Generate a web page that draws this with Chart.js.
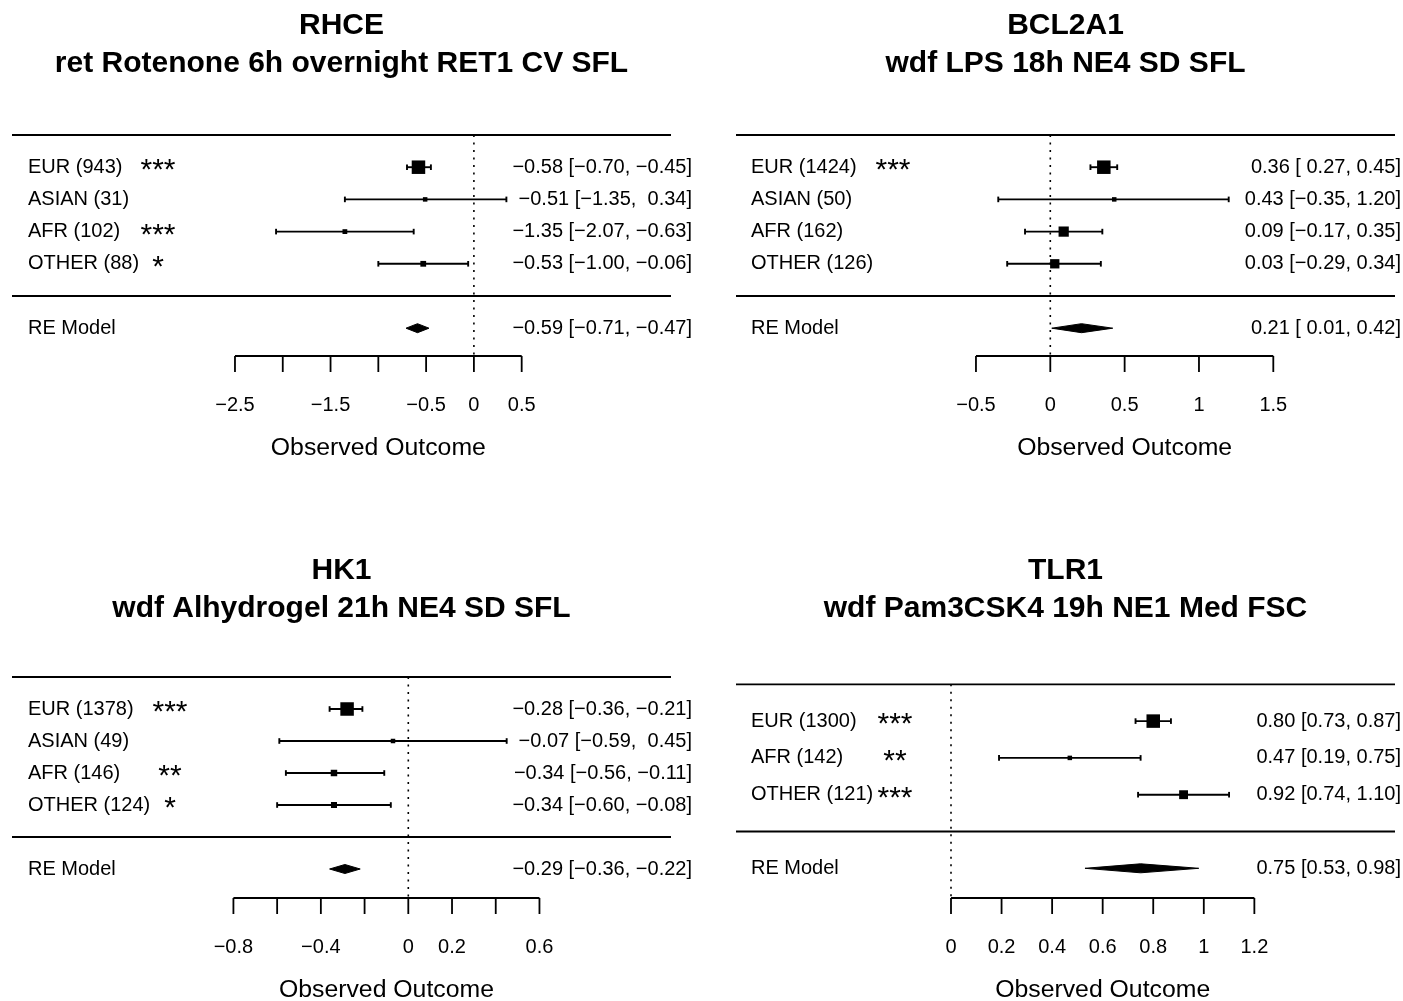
<!DOCTYPE html>
<html>
<head>
<meta charset="utf-8">
<script src="https://cdn.jsdelivr.net/npm/chart.js@4.4.1/dist/chart.umd.min.js"></script>
<style>
  body { margin: 0; background: #fff; }
  #wrap { position: relative; width: 1403px; height: 1001px; overflow: hidden; }
  canvas { position: absolute; }
</style>
</head>
<body>
<div id="wrap">
  <canvas id="c1" width="701" height="500" style="left:0;top:0"></canvas>
  <canvas id="c2" width="702" height="500" style="left:701px;top:0"></canvas>
  <canvas id="c3" width="701" height="501" style="left:0;top:500px"></canvas>
  <canvas id="c4" width="702" height="501" style="left:701px;top:500px"></canvas>
</div>
<script>
// ---- data ----
// RHCE
const rhceTitle = ['RHCE', 'ret Rotenone 6h overnight RET1 CV SFL'];
const rhceGroups = ['EUR (943)', 'ASIAN (31)', 'AFR (102)', 'OTHER (88)'];
const rhceStars = ['***', '', '***', '*'];
const rhceEst = [-0.58, -0.51, -1.35, -0.53];
const rhceLow = [-0.70, -1.35, -2.07, -1.00];
const rhceHigh = [-0.45, 0.34, -0.63, -0.06];
const rhceWeights = [89.0, 1.9, 2.7, 6.3];
const rhceRE = [-0.59, -0.71, -0.47]; // estimate, lower, upper
const rhceTicks = [-2.5, -2, -1.5, -1, -0.5, 0, 0.5];
const rhceTickLabels = ['\u22122.5', '', '\u22121.5', '', '\u22120.5', '0', '0.5'];

// BCL2A1
const bclTitle = ['BCL2A1', 'wdf LPS 18h NE4 SD SFL'];
const bclGroups = ['EUR (1424)', 'ASIAN (50)', 'AFR (162)', 'OTHER (126)'];
const bclStars = ['***', '', '', ''];
const bclEst = [0.36, 0.43, 0.09, 0.03];
const bclLow = [0.27, -0.35, -0.17, -0.29];
const bclHigh = [0.45, 1.20, 0.35, 0.34];
const bclWeights = [45.4, 5.7, 26.6, 22.2];
const bclRE = [0.21, 0.01, 0.42];
const bclTicks = [-0.5, 0, 0.5, 1, 1.5];
const bclTickLabels = ['\u22120.5', '0', '0.5', '1', '1.5'];

// HK1
const hkTitle = ['HK1', 'wdf Alhydrogel 21h NE4 SD SFL'];
const hkGroups = ['EUR (1378)', 'ASIAN (49)', 'AFR (146)', 'OTHER (124)'];
const hkStars = ['***', '', '**', '*'];
const hkEst = [-0.28, -0.07, -0.34, -0.34];
const hkLow = [-0.36, -0.59, -0.56, -0.60];
const hkHigh = [-0.21, 0.45, -0.11, -0.08];
const hkWeights = [82.3, 1.7, 9.1, 6.9];
const hkRE = [-0.29, -0.36, -0.22];
const hkTicks = [-0.8, -0.6, -0.4, -0.2, 0, 0.2, 0.4, 0.6];
const hkTickLabels = ['\u22120.8', '', '\u22120.4', '', '0', '0.2', '', '0.6'];

// TLR1
const tlrTitle = ['TLR1', 'wdf Pam3CSK4 19h NE1 Med FSC'];
const tlrGroups = ['EUR (1300)', 'AFR (142)', 'OTHER (121)'];
const tlrStars = ['***', '**', '***'];
const tlrEst = [0.80, 0.47, 0.92];
const tlrLow = [0.73, 0.19, 0.74];
const tlrHigh = [0.87, 0.75, 1.10];
const tlrWeights = [46.4, 21.3, 32.3];
const tlrRE = [0.75, 0.53, 0.98];
const tlrTicks = [0, 0.2, 0.4, 0.6, 0.8, 1, 1.2];
const tlrTickLabels = ['0', '0.2', '0.4', '0.6', '0.8', '1', '1.2'];

const FONT = '"Liberation Sans", Arial, Helvetica, sans-serif';

// format like R's forest annotations (padded columns, unicode minus)
function fmtCol(vals) {
  const s = vals.map(v => v.toFixed(2));
  const w = Math.max(...s.map(t => t.length));
  return s.map(t => (' '.repeat(w - t.length) + t).replace(/-/g, '\u2212'));
}

function makePanel(id, title, groups, stars, est, low, high, weights, re, ticks, tickLabels, lay) {
  const k = groups.length;
  const rows = groups.map((_, i) => k - i);
  const cv = document.getElementById(id);
  const W = cv.width, H = cv.height;
  const xmin = (lay.left - lay.zero) / lay.unit;
  const xmax = (lay.left + W - lay.zero) / lay.unit;
  const ymax = (lay.row0 - lay.top) / lay.step;
  const ymin = (lay.row0 - lay.top - H) / lay.step;
  const axisRow = (lay.row0 - lay.axisY) / lay.step;

  // metafor-style point sizes from sqrt(weights)
  const wi = weights.map(Math.sqrt);
  const sw = wi.reduce((a, b) => a + b, 0);
  const pw = wi.map(v => v / sw);
  const pmin = Math.min(...pw), pmax = Math.max(...pw);
  const psize = pw.map(v => (v - pmin) / (pmax - pmin) + 0.5);

  const estS = fmtCol(est.concat([re[0]]));
  const lowS = fmtCol(low.concat([re[1]]));
  const highS = fmtCol(high.concat([re[2]]));
  const ciText = estS.map((e, i) => e + ' [' + lowS[i] + ', ' + highS[i] + ']');

  const datasets = [];
  rows.forEach((r, i) => {
    datasets.push({
      data: [{ x: low[i], y: r }, { x: high[i], y: r }],
      borderColor: '#000', borderWidth: 1.9,
      pointStyle: 'line', pointRotation: 90, pointRadius: 2.8,
      pointBorderWidth: 1.9, pointBorderColor: '#000', pointHoverRadius: 0
    });
  });
  datasets.push({
    data: est.map((e, i) => ({ x: e, y: rows[i] })),
    showLine: false, pointStyle: 'rect',
    pointRadius: c => psize[c.dataIndex] * 9 / Math.SQRT2,
    pointBackgroundColor: '#000', pointBorderWidth: 0, pointHoverRadius: 0
  });
  const hd = 4.5 / lay.step;
  datasets.push({
    data: [{ x: re[1], y: -1 }, { x: re[0], y: -1 + hd }, { x: re[2], y: -1 }, { x: re[0], y: -1 - hd }, { x: re[1], y: -1 }],
    fill: 'shape', backgroundColor: '#000', borderColor: '#000', borderWidth: 1,
    pointRadius: 0, tension: 0
  });
  datasets.push({
    data: [{ x: 0, y: k + 1 }, { x: 0, y: axisRow }],
    borderColor: '#000', borderWidth: 1.6, borderDash: [2, 5.5], pointRadius: 0
  });

  const decor = {
    id: 'decor',
    afterDraw(chart) {
      const ctx = chart.ctx;
      const ys = chart.scales.y, xs = chart.scales.x;
      const lx = v => v - lay.left;
      const ly = v => v - lay.top;
      ctx.save();
      ctx.fillStyle = '#000';
      ctx.strokeStyle = '#000';
      // title
      ctx.font = 'bold 30px ' + FONT;
      ctx.textAlign = 'center';
      ctx.textBaseline = 'middle';
      const cx = lx((lay.ruleL + lay.ruleR) / 2);
      ctx.fillText(title[0], cx, ly(lay.titleY[0]));
      ctx.fillText(title[1], cx, ly(lay.titleY[1]));
      // rules
      ctx.lineWidth = 1.8;
      [k + 1, 0].forEach(r => {
        const y = ys.getPixelForValue(r);
        ctx.beginPath();
        ctx.moveTo(lx(lay.ruleL), y);
        ctx.lineTo(lx(lay.ruleR), y);
        ctx.stroke();
      });
      // labels and annotations
      ctx.font = '20px ' + FONT;
      const allRows = rows.concat([-1]);
      const allLabels = groups.concat(['RE Model']);
      allRows.forEach((r, i) => {
        const y = ys.getPixelForValue(r);
        ctx.textAlign = 'left';
        ctx.fillText(allLabels[i], lx(lay.labelX), y);
        ctx.textAlign = 'right';
        ctx.fillText(ciText[i], lx(lay.textR), y);
      });
      ctx.font = '30px ' + FONT;
      ctx.textAlign = 'center';
      ctx.textBaseline = 'alphabetic';
      rows.forEach((r, i) => {
        if (stars[i]) ctx.fillText(stars[i], lx(lay.starX), ys.getPixelForValue(r) + 12);
      });
      // x axis
      const ay = ys.getPixelForValue(axisRow);
      const x0 = xs.getPixelForValue(ticks[0]);
      const x1 = xs.getPixelForValue(ticks[ticks.length - 1]);
      ctx.lineWidth = 1.8;
      ctx.beginPath();
      ctx.moveTo(x0, ay);
      ctx.lineTo(x1, ay);
      ticks.forEach(t => {
        const x = xs.getPixelForValue(t);
        ctx.moveTo(x, ay);
        ctx.lineTo(x, ay + 16);
      });
      ctx.stroke();
      ctx.font = '20px ' + FONT;
      ctx.textBaseline = 'middle';
      ticks.forEach((t, i) => {
        if (tickLabels[i]) ctx.fillText(tickLabels[i], xs.getPixelForValue(t), ay + 49);
      });
      ctx.font = '24.8px ' + FONT;
      ctx.fillText('Observed Outcome', (x0 + x1) / 2, ay + 92);
      ctx.restore();
    }
  };

  return new Chart(cv.getContext('2d'), {
    type: 'line',
    data: { datasets },
    options: {
      responsive: false,
      animation: false,
      events: [],
      layout: { padding: 0, autoPadding: false },
      scales: {
        x: { type: 'linear', min: xmin, max: xmax, display: false },
        y: { type: 'linear', min: ymin, max: ymax, display: false }
      },
      plugins: { legend: { display: false }, tooltip: { enabled: false }, title: { display: false } }
    },
    plugins: [decor]
  });
}

makePanel('c1', rhceTitle, rhceGroups, rhceStars, rhceEst, rhceLow, rhceHigh, rhceWeights, rhceRE,
  rhceTicks, rhceTickLabels,
  { left: 0, top: 0, zero: 473.9, unit: 95.57, row0: 296, step: 32.2, axisY: 356,
    ruleL: 12, ruleR: 671, labelX: 28, starX: 158, textR: 692, titleY: [26, 64] });

makePanel('c2', bclTitle, bclGroups, bclStars, bclEst, bclLow, bclHigh, bclWeights, bclRE,
  bclTicks, bclTickLabels,
  { left: 701, top: 0, zero: 1050.3, unit: 148.67, row0: 296, step: 32.2, axisY: 356,
    ruleL: 736, ruleR: 1395, labelX: 751, starX: 893, textR: 1401, titleY: [26, 64] });

makePanel('c3', hkTitle, hkGroups, hkStars, hkEst, hkLow, hkHigh, hkWeights, hkRE,
  hkTicks, hkTickLabels,
  { left: 0, top: 500, zero: 408.3, unit: 218.6, row0: 837, step: 32, axisY: 898,
    ruleL: 12, ruleR: 671, labelX: 28, starX: 170, textR: 692, titleY: [571, 609] });

makePanel('c4', tlrTitle, tlrGroups, tlrStars, tlrEst, tlrLow, tlrHigh, tlrWeights, tlrRE,
  tlrTicks, tlrTickLabels,
  { left: 701, top: 500, zero: 951, unit: 252.8, row0: 831.5, step: 36.8, axisY: 898,
    ruleL: 736, ruleR: 1395, labelX: 751, starX: 895, textR: 1401, titleY: [571, 609] });
</script>
</body>
</html>
